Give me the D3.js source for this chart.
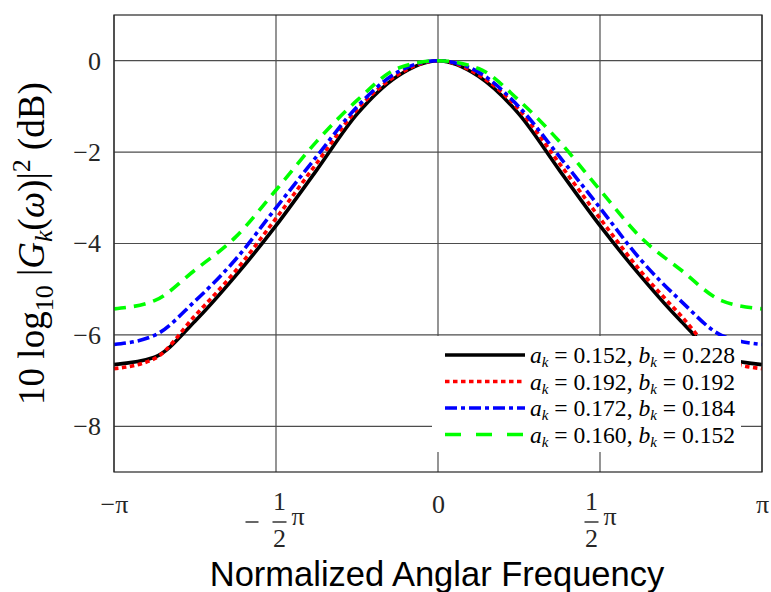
<!DOCTYPE html>
<html>
<head>
<meta charset="utf-8">
<script src="https://cdn.jsdelivr.net/npm/d3@7"></script>
<style>
  body { margin: 0; background: #fff; }
  svg { display: block; }
</style>
</head>
<body>
<div id="chart"></div>
<script>
// angular frequency, in units of pi
const omega = [-1, -0.875, -0.75, -0.625, -0.5, -0.375, -0.25, -0.125, 0,
               0.125, 0.25, 0.375, 0.5, 0.625, 0.75, 0.875, 1];

// 10 log10 |G_k(w)|^2 in dB
const black = [-6.65, -6.49, -5.70, -4.71, -3.61, -2.40, -1.17, -0.34, 0,
               -0.34, -1.17, -2.40, -3.61, -4.71, -5.70, -6.49, -6.65];
const red   = [-6.74, -6.52, -5.58, -4.60, -3.45, -2.25, -1.07, -0.31, 0,
               -0.31, -1.07, -2.25, -3.45, -4.60, -5.58, -6.52, -6.74];
const blue  = [-6.21, -6.01, -5.26, -4.35, -3.22, -2.10, -1.01, -0.25, 0,
               -0.25, -1.01, -2.10, -3.22, -4.35, -5.26, -6.01, -6.21];
const green = [-5.43, -5.25, -4.58, -3.86, -2.83, -1.77, -0.87, -0.17, 0,
               -0.17, -0.87, -1.77, -2.83, -3.86, -4.58, -5.25, -5.43];

const legendA = ["0.152", "0.192", "0.172", "0.160"];
const legendB = ["0.228", "0.192", "0.184", "0.152"];

const yTicks = [0, -2, -4, -6, -8];
const xTicks = [-1, -0.5, 0, 0.5, 1];

const series = [
  {vals: black, color: "#000000", dash: null,       legDash: null},
  {vals: red,   color: "#ff0000", dash: "4.5,3.5",  legDash: "4.5,3.5"},
  {vals: blue,  color: "#0000ff", dash: "12,4,4,4", legDash: "12,4,4,4"},
  {vals: green, color: "#00ff00", dash: "12,8",     legDash: "16,15"}
];

const W = 771, H = 592;
const margin = {top: 15, right: 9, bottom: 120, left: 114};
const visWidth = W - margin.left - margin.right;
const visHeight = H - margin.top - margin.bottom;

const svg = d3.select("#chart").append("svg")
    .attr("width", W)
    .attr("height", H);

const g = svg.append("g")
    .attr("transform", `translate(${margin.left}, ${margin.top})`);

const x = d3.scaleLinear().domain([-1, 1]).range([0, visWidth]);
const y = d3.scaleLinear().domain([-9, 1]).range([visHeight, 0]);

const serif = "'Liberation Serif', 'DejaVu Serif', serif";
const ink = "#262626";

// grid
g.append("g")
  .selectAll("line")
  .data(xTicks)
  .join("line")
    .attr("x1", d => x(d)).attr("x2", d => x(d))
    .attr("y1", 0).attr("y2", visHeight)
    .attr("stroke", "#4d4d4d").attr("stroke-width", 1.2);

g.append("g")
  .selectAll("line")
  .data(yTicks)
  .join("line")
    .attr("x1", 0).attr("x2", visWidth)
    .attr("y1", d => y(d)).attr("y2", d => y(d))
    .attr("stroke", "#4d4d4d").attr("stroke-width", 1.2);

// y axis
const yAxis = d3.axisLeft(y).tickValues(yTicks).tickSize(0).tickPadding(13)
    .tickFormat(d => d === 0 ? "0" : "\u2212" + Math.abs(d));

g.append("g")
    .call(yAxis)
    .call(a => a.select(".domain").remove())
    .call(a => a.selectAll("text")
        .attr("font-family", serif)
        .attr("font-size", 26)
        .attr("fill", ink));

// x axis, labels in units of pi
const xAxis = d3.axisBottom(x).tickValues(xTicks).tickSize(0).tickFormat("");

const xg = g.append("g")
    .attr("transform", `translate(0, ${visHeight})`)
    .call(xAxis)
    .call(a => a.select(".domain").remove());

xg.selectAll(".tick").each(function(d) {
  const t = d3.select(this);
  const txt = (s, dx, dy, anchor) => t.append("text")
      .attr("x", dx).attr("y", dy)
      .attr("text-anchor", anchor || "middle")
      .attr("font-family", serif)
      .attr("font-size", 26)
      .attr("fill", ink)
      .text(s);
  if (Math.abs(d) === 1) {
    txt(d < 0 ? "\u2212\u03c0" : "\u03c0", 0, 41);
  } else if (d === 0) {
    txt("0", 0, 41);
  } else {
    // fraction: (-)1/2 pi
    const c = d < 0 ? 3 : -9;
    if (d < 0) {
      t.append("line")
          .attr("x1", -31).attr("x2", -18)
          .attr("y1", 50).attr("y2", 50)
          .attr("stroke", ink).attr("stroke-width", 1.4);
    }
    txt("1", c, 38);
    t.append("line")
        .attr("x1", c - 7).attr("x2", c + 7)
        .attr("y1", 50).attr("y2", 50)
        .attr("stroke", ink).attr("stroke-width", 1.4);
    txt("2", c, 75);
    txt("\u03c0", c + 12, 53, "start");
  }
});

// axis titles
g.append("text")
    .attr("x", visWidth / 2 - 1)
    .attr("y", visHeight + 114)
    .attr("text-anchor", "middle")
    .attr("font-family", "'Liberation Sans', Arial, sans-serif")
    .attr("font-size", 34.5)
    .attr("fill", "#000")
    .text("Normalized Anglar Frequency");

const yl = svg.append("text")
    .attr("transform", `translate(44, ${margin.top + visHeight / 2}) rotate(-90)`)
    .attr("text-anchor", "middle")
    .attr("font-family", serif)
    .attr("font-size", 37)
    .attr("fill", "#000");
yl.append("tspan").text("10 log");
yl.append("tspan").attr("font-size", 26).attr("dy", 9).text("10");
yl.append("tspan").attr("dy", -9).text(" |");
yl.append("tspan").attr("font-style", "italic").text("G");
yl.append("tspan").attr("font-style", "italic").attr("font-size", 26).attr("dy", 8).text("k");
yl.append("tspan").attr("dy", -8).text("(");
yl.append("tspan").attr("font-style", "italic").text("\u03c9");
yl.append("tspan").text(")|");
yl.append("tspan").attr("font-size", 26).attr("dy", -14).text("2");
yl.append("tspan").attr("dy", 14).text(" (dB)");

// curves
const line = d3.line()
    .x((d, i) => x(omega[i]))
    .y(d => y(d))
    .curve(d3.curveMonotoneX);

g.append("g")
  .selectAll("path")
  .data(series)
  .join("path")
    .attr("d", d => line(d.vals))
    .attr("fill", "none")
    .attr("stroke", d => d.color)
    .attr("stroke-width", 3.6)
    .attr("stroke-dasharray", d => d.dash);

// legend
const leg = g.append("g")
    .attr("transform", `translate(${432 - margin.left}, ${336 - margin.top})`);

leg.append("rect")
    .attr("width", 309).attr("height", 116)
    .attr("fill", "#fff");

const rows = leg.selectAll("g.row")
  .data(series)
  .join("g")
    .attr("class", "row")
    .attr("transform", (d, i) => `translate(0, ${19 + i * 26.5})`);

rows.append("line")
    .attr("x1", 13).attr("x2", 93)
    .attr("stroke", d => d.color)
    .attr("stroke-width", 3.6)
    .attr("stroke-dasharray", d => d.legDash);

const lt = rows.append("text")
    .attr("x", 98).attr("y", 8)
    .attr("font-family", serif)
    .attr("font-size", 23.6)
    .attr("fill", "#000");
lt.append("tspan").attr("font-style", "italic").text("a");
lt.append("tspan").attr("font-style", "italic").attr("font-size", 15).attr("dy", 4).text("k");
lt.append("tspan").attr("dy", -4).text((d, i) => " = " + legendA[i] + ", ");
lt.append("tspan").attr("font-style", "italic").text("b");
lt.append("tspan").attr("font-style", "italic").attr("font-size", 15).attr("dy", 4).text("k");
lt.append("tspan").attr("dy", -4).text((d, i) => " = " + legendB[i]);

// box
g.append("rect")
    .attr("width", visWidth).attr("height", visHeight)
    .attr("fill", "none")
    .attr("stroke", ink)
    .attr("stroke-width", 1.2);
</script>
</body>
</html>
